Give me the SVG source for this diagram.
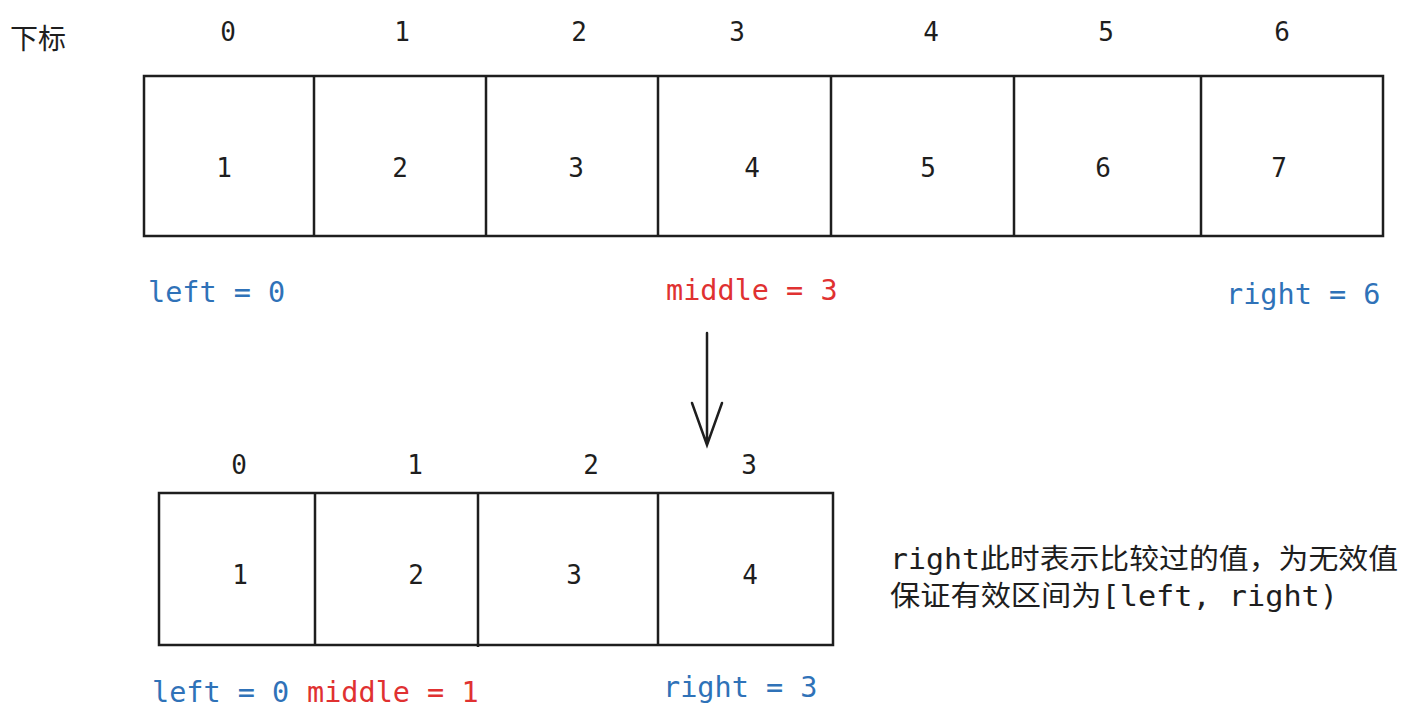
<svg xmlns="http://www.w3.org/2000/svg" width="1425" height="724" viewBox="0 0 1425 724">
<style>
.box{fill:none;stroke:#1e1e1e;stroke-width:2.5}
.t{font-family:"DejaVu Sans Mono","Noto Sans CJK SC",monospace;font-size:26px;fill:#1e1e1e}
.l{font-size:28.5px}
.c{text-anchor:middle}
.blue{fill:#2f72b8}
.red{fill:#e03131}
</style>
<rect width="1425" height="724" fill="#fff"/>
<text class="t" x="10" y="49" style="font-family:'Noto Sans CJK SC',sans-serif;font-size:28px">下标</text>
<g id="top-array">
<rect class="box" x="144" y="76" width="1239" height="160"/>
<path class="box" d="M314 76V236M486 76V236M658 76V236M831 76V236M1014 76V236M1201 76V236"/>
<g class="t c">
<text x="228" y="41">0</text><text x="402" y="41">1</text><text x="579" y="41">2</text><text x="737" y="41">3</text><text x="931" y="41">4</text><text x="1106" y="41">5</text><text x="1282" y="41">6</text>
<text x="224" y="177">1</text><text x="400" y="177">2</text><text x="576" y="177">3</text><text x="752" y="177">4</text><text x="928" y="177">5</text><text x="1103" y="177">6</text><text x="1279" y="177">7</text>
</g>
</g>
<g id="top-labels">
<text class="t l blue" x="148" y="302">left = 0</text>
<text class="t l red" x="666" y="300">middle = 3</text>
<text class="t l blue" x="1226" y="304">right = 6</text>
</g>
<g id="connectors">
<path d="M707 333V445M692 403L707 445L722 403" fill="none" stroke="#1e1e1e" stroke-width="2.5" stroke-linecap="round"/>
</g>
<g id="bottom-array">
<rect class="box" x="159" y="493" width="674" height="152"/>
<path class="box" d="M315 493V645M478 493V647M658 493V645"/>
<g class="t c">
<text x="239" y="474">0</text><text x="415" y="474">1</text><text x="591" y="474">2</text><text x="749" y="474">3</text>
<text x="240" y="584">1</text><text x="416" y="584">2</text><text x="574" y="584">3</text><text x="750" y="584">4</text>
</g>
</g>
<g id="bottom-labels">
<text class="t l blue" x="152" y="702">left = 0</text>
<text class="t l red" x="307" y="702">middle = 1</text>
<text class="t l blue" x="663" y="697">right = 3</text>
</g>
<g id="note">
<text class="t" x="890" y="569" style="font-size:28px" textLength="508" lengthAdjust="spacingAndGlyphs">right此时表示比较过的值，为无效值</text>
<text class="t" x="890" y="606" style="font-size:28px" textLength="448" lengthAdjust="spacingAndGlyphs">保证有效区间为[left, right)</text>
</g>
</svg>
